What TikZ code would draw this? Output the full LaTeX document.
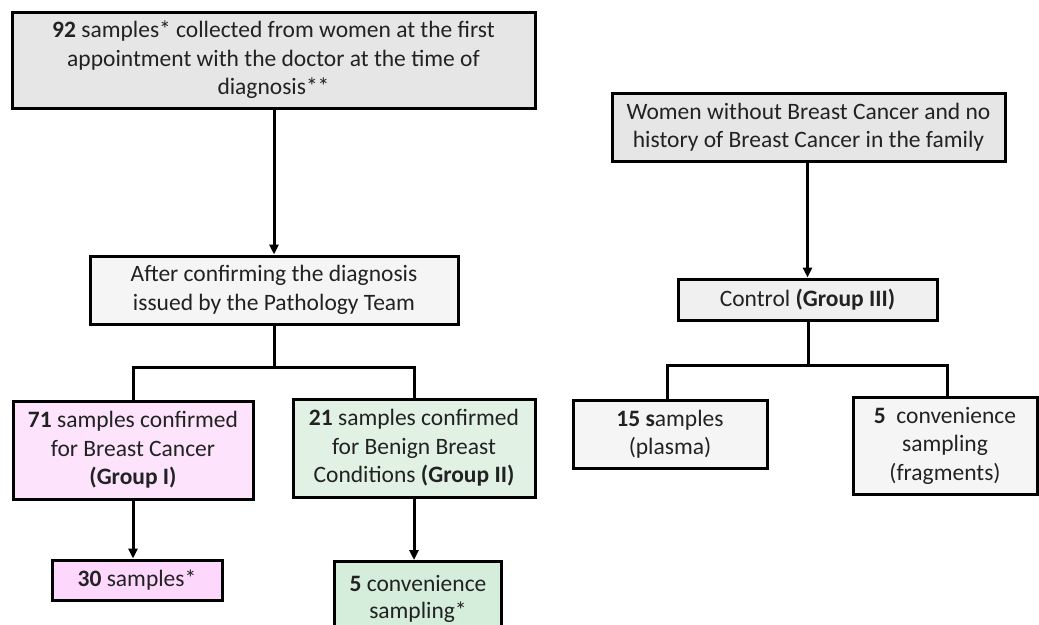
\documentclass[tikz,border=0pt]{standalone}
\usepackage{fontspec}
\setmainfont{Carlito}
\usetikzlibrary{arrows.meta}
\definecolor{txt}{HTML}{222222}
\definecolor{grayA}{HTML}{E6E6E6}
\definecolor{grayB}{HTML}{F5F5F5}
\definecolor{grayC}{HTML}{F0F0F0}
\definecolor{pinkA}{HTML}{FDE4FC}
\definecolor{pinkB}{HTML}{FDD8FC}
\definecolor{greenA}{HTML}{E1F2E5}
\definecolor{greenB}{HTML}{D5EDDB}
\begin{document}
\begin{tikzpicture}[x=1pt,y=-1pt,
  box/.style={draw=black, line width=3pt, align=center, inner sep=0pt, text=txt,
    font=\fontsize{23.5}{28.5}\selectfont},
  conn/.style={line width=3pt},
  arr/.style={conn,-{Triangle[length=10pt,width=9pt]}}]
\clip (0,0) rectangle (1039,624);
\fill[white] (0,0) rectangle (1039,624);
% left column
\node[box, fill=grayA, minimum width=523pt, minimum height=96pt] (top) at (273.5,60)
  {\textbf{92} samples* collected from women at the first\\appointment with the doctor at the time of\\diagnosis**};
\node[box, fill=grayB, minimum width=368pt, minimum height=68pt] (mid) at (274,290)
  {After confirming the diagnosis\\issued by the Pathology Team};
\node[box, fill=pinkA, minimum width=240pt, minimum height=98pt] (g1) at (133,450)
  {\textbf{71} samples confirmed\\for Breast Cancer\\\textbf{(Group I)}};
\node[box, fill=greenA, minimum width=242pt, minimum height=98pt] (g2) at (414,448)
  {\textbf{21} samples confirmed\\for Benign Breast\\Conditions \textbf{(Group II)}};
\node[box, fill=pinkB, minimum width=170pt, minimum height=40pt] (s30) at (137,580)
  {\textbf{30} samples*};
\node[box, fill=greenB, minimum width=167pt, minimum height=75pt, anchor=north,
  font=\fontsize{23.5}{27}\selectfont] (c5) at (418,560)
  {\textbf{5} convenience\\sampling*};
% right column
\node[box, fill=grayA, minimum width=393pt, minimum height=68pt] (rtop) at (808.5,127)
  {Women without Breast Cancer and no\\history of Breast Cancer in the family};
\node[box, fill=grayC, minimum width=259pt, minimum height=41pt] (ctrl) at (807.5,299.5)
  {Control \textbf{(Group III)}};
\node[box, fill=grayB, minimum width=194pt, minimum height=68pt] (s15) at (670,434)
  {\textbf{15 s}amples\\(plasma)};
\node[box, fill=grayB, minimum width=184pt, minimum height=97pt] (c5r) at (945,445.5)
  {\textbf{5}\ \ convenience\\sampling\\(fragments)};
% connectors
\coordinate (jl) at (274,367);
\coordinate (jr) at (808,365);
\draw[arr] (top.south -| 274,0) -- (mid.north -| 274,0);
\draw[conn] (mid.south -| jl) -- (jl);
\draw[conn] (g1.north) -- (g1.north |- jl) -- (g2.north |- jl) -- (g2.north);
\draw[arr] (g1.south) -- (g1.south |- s30.north);
\draw[arr] (g2.south) -- (g2.south |- c5.north);
\draw[arr] (rtop.south -| ctrl.north) -- (ctrl.north);
\draw[conn] (ctrl.south -| jr) -- (jr);
\draw[conn] (s15.north -| 667,0) -- (667,365) -- (947,365) -- (c5r.north -| 947,0);
\end{tikzpicture}
\end{document}
